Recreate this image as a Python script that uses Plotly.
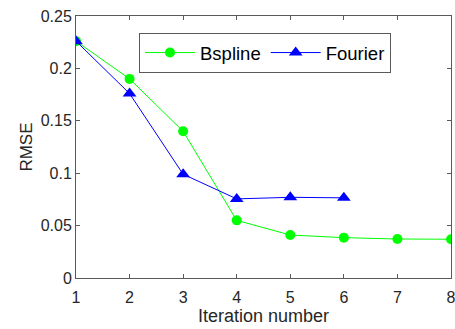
import plotly.graph_objects as go

iter_b = [1, 2, 3, 4, 5, 6, 7, 8]
rmse_bspline = [0.226, 0.190, 0.140, 0.055, 0.041, 0.0385, 0.0372, 0.037]
iter_f = [1, 2, 3, 4, 5, 6]
rmse_fourier = [0.226, 0.176, 0.099, 0.0755, 0.077, 0.0765]

x_ticks = [1, 2, 3, 4, 5, 6, 7, 8]
y_ticks = [0, 0.05, 0.1, 0.15, 0.2, 0.25]
y_labels = ["0", "0.05", "0.1", "0.15", "0.2", "0.25"]

linecol = "#5a5a5a"
txtcol = "#262626"
fig = go.Figure()
fig.add_trace(go.Scatter(x=iter_b, y=rmse_bspline, mode="lines+markers", name="Bspline",
                         line=dict(color="#00FF00", width=1),
                         marker=dict(symbol="circle", size=10, color="#00FF00")))
fig.add_trace(go.Scatter(x=iter_f, y=rmse_fourier, mode="lines+markers", name="Fourier",
                         line=dict(color="#0000FF", width=1),
                         marker=dict(symbol="triangle-up", size=12, color="#0000FF")))

fig.update_layout(
    width=455, height=329,
    margin=dict(l=76, r=4, t=16, b=51, autoexpand=False),
    paper_bgcolor="white", plot_bgcolor="white",
    font=dict(family="Liberation Sans, Arial, sans-serif", size=16, color="#000000"),
    showlegend=True,
    legend=dict(orientation="h", x=0.168, y=0.935, xanchor="left", yanchor="top",
                bordercolor=linecol, borderwidth=1, bgcolor="white",
                font=dict(size=18.5, color="#000000"), itemwidth=50,
                tracegroupgap=0),
    xaxis=dict(range=[1, 8], tickvals=x_ticks, ticks="inside", ticklen=4,
               tickcolor=linecol, linecolor=linecol, linewidth=1, mirror="ticks",
               showgrid=False, zeroline=False, ticklabelstandoff=5,
               ticklabeloverflow="allow", automargin=False,
               tickfont=dict(size=16, color=txtcol),
               title=dict(text="Iteration number", font=dict(size=18, color=txtcol), standoff=4)),
    yaxis=dict(range=[0, 0.25], tickvals=y_ticks, ticktext=y_labels, ticks="inside", ticklen=4,
               tickcolor=linecol, linecolor=linecol, linewidth=1, mirror="ticks",
               showgrid=False, zeroline=False, automargin=False,
               tickfont=dict(size=16, color=txtcol),
               title=dict(text="RMSE", font=dict(size=17, color=txtcol), standoff=3)),
)

fig.write_html("out.html")
